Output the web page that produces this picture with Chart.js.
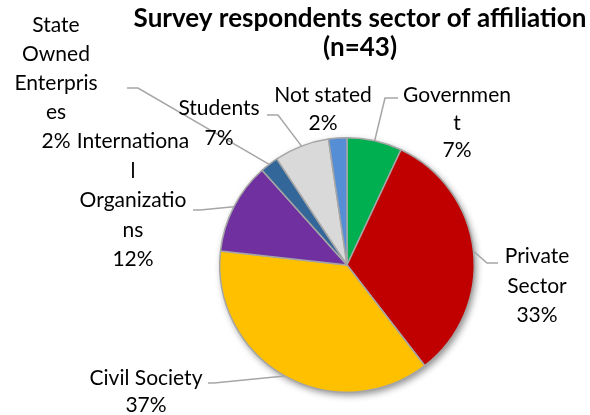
<!DOCTYPE html>
<html><head><meta charset="utf-8">
<script src="https://cdn.jsdelivr.net/npm/chart.js@4"></script>
<style>html,body{margin:0;padding:0;background:#fff}#wrap{width:590px;height:415px;position:relative}</style>
</head><body><div id="wrap"><canvas id="c" width="590" height="415"></canvas></div>
<script>
const titleLines = ["Survey respondents sector of affiliation", "(n=43)"];
const categories = ["Government","Private Sector","Civil Society","International Organizations","State Owned Enterprises","Students","Not stated"];
const counts = [3, 14, 16, 5, 1, 3, 1];
const labelLines = [["Governmen","t"],["Private","Sector"],["Civil Society"],["Internationa","l","Organizatio","ns"],["State","Owned","Enterpris","es"],["Students"],["Not stated"]];
const colors = ["#00b050","#c00000","#ffc000","#7030a0","#336699","#d9d9d9","#558ed5"];

// layout: text centre x, first baseline y, line height, leader start + elbow (null = none)
const labelLayout = [
  {x:457, y:102, lh:27.5, lead:[[398,98],[385,98]]},
  {x:537, y:263, lh:29.5, lead:[[498,263],[487,263]]},
  {x:146, y:385, lh:27,   lead:[[208,383],[214,383]]},
  {x:133, y:148, lh:29.5, lead:[[193,210],[200,210]]},
  {x:56,  y:32,  lh:29,   lead:[[127,88],[138,88]]},
  {x:219, y:115, lh:30,   lead:[[267,115],[278,115]]},
  {x:323, y:102, lh:28,   lead:null}
];
const FONT = "21px Lato";
const TITLE_FONT = "bold 26px Lato";

const total = counts.reduce((a,b)=>a+b,0);
const pct = counts.map(v => Math.round(v/total*100) + "%");

const shadowPlugin = {
  id:'shadow',
  beforeDatasetsDraw(chart){
    const a = chart.getDatasetMeta(0).data[0];
    const ctx = chart.ctx;
    ctx.save();
    ctx.shadowColor = 'rgba(0,0,0,0.45)';
    ctx.shadowBlur = 7;
    ctx.shadowOffsetX = 2;
    ctx.shadowOffsetY = 3;
    ctx.fillStyle = '#a6a6a6';
    ctx.beginPath();
    ctx.arc(a.x, a.y, a.outerRadius, 0, Math.PI*2);
    ctx.fill();
    ctx.restore();
  }
};

const labelPlugin = {
  id:'labels',
  afterDraw(chart){
    const ctx = chart.ctx;
    const meta = chart.getDatasetMeta(0);
    ctx.save();
    // title
    ctx.fillStyle = '#000';
    ctx.font = TITLE_FONT;
    ctx.textAlign = 'center';
    ctx.textBaseline = 'alphabetic';
    ctx.fillText(titleLines[0], 360, 27);
    ctx.fillText(titleLines[1], 360, 56);
    // labels
    meta.data.forEach((arc, i) => {
      const L = labelLayout[i];
      if (L.lead) {
        const mid = (arc.startAngle + arc.endAngle)/2;
        const ex = arc.x + Math.cos(mid)*arc.outerRadius;
        const ey = arc.y + Math.sin(mid)*arc.outerRadius;
        ctx.strokeStyle = '#a6a6a6';
        ctx.lineWidth = 1.5;
        ctx.beginPath();
        ctx.moveTo(L.lead[0][0], L.lead[0][1]);
        ctx.lineTo(L.lead[1][0], L.lead[1][1]);
        ctx.lineTo(ex, ey);
        ctx.stroke();
      }
      const lines = labelLines[i].concat([pct[i]]);
      ctx.font = FONT;
      ctx.fillStyle = '#000';
      ctx.textAlign = 'center';
      lines.forEach((t, k) => ctx.fillText(t, L.x, L.y + k*L.lh));
    });
    ctx.restore();
  }
};

new Chart(document.getElementById('c'), {
  type:'pie',
  data:{ labels: categories, datasets:[{ data: counts, backgroundColor: colors, borderColor:'#a6a6a6', borderWidth:1.5 }] },
  options:{
    responsive:false, devicePixelRatio:1, animation:false, events:[],
    layout:{ padding:{ left:219, right:115, top:137, bottom:22 } },
    plugins:{ legend:{display:false}, title:{display:false}, tooltip:{enabled:false} }
  },
  plugins:[shadowPlugin, labelPlugin]
});
</script>
</body></html>
